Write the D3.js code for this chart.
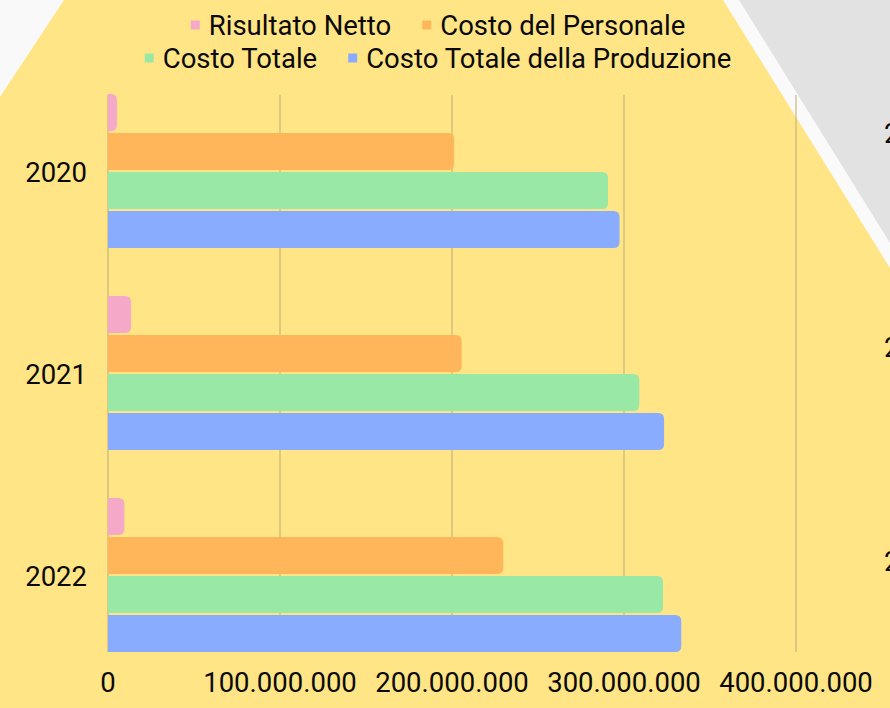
<!DOCTYPE html>
<html lang="it">
<head>
    <meta charset="UTF-8">
    <title>Costi e Risultato</title>
    <script src="https://d3js.org/d3.v7.min.js"></script>
    <style>
        html, body { margin: 0; padding: 0; background: #ffe585; }
        svg { display: block; font-family: Roboto, "Noto Sans", sans-serif; }
        .tick_text { font-size: 27.5px; fill: #0a0a0a; }
        .legend_text { font-size: 27.5px; fill: #0a0a0a; }
    </style>
</head>
<body>
<svg width="890" height="708"></svg>

<script>
    // data
    const years = ["2020", "2021", "2022"];
    const seriesNames = ["Risultato Netto", "Costo del Personale", "Costo Totale", "Costo Totale della Produzione"];
    const risultatoNetto = [5200000, 13400000, 9500000];
    const costoPersonale = [201200000, 205600000, 229800000];
    const costoTotale = [290700000, 308900000, 322700000];
    const costoProduzione = [297400000, 323300000, 333300000];
    const xTicks = [0, 100000000, 200000000, 300000000, 400000000];
    const seriesColors = ["#f6a8c8", "#ffb55a", "#9ae8a5", "#8aacff"];

    const seriesValues = [risultatoNetto, costoPersonale, costoTotale, costoProduzione];

    let svg = d3.select("svg");
    const W = 890, H = 708;

    // background shapes
    svg.append("rect").attr("width", W).attr("height", H).attr("fill", "#ffe585");
    svg.append("path").attr("d", "M0,0 L64,0 L0,97 Z").attr("fill", "#f9f9f9");
    svg.append("path").attr("d", "M723,0 L890,0 L890,268 Z").attr("fill", "#fafafa");
    svg.append("path").attr("d", "M739,0 L890,0 L890,243 Z").attr("fill", "#e1e2e1");
    // fragments of labels from a neighbouring chart, cut by the page edge as in the reference
    [143, 357, 571].forEach(function (y) {
        svg.append("text").attr("x", 884).attr("y", y)
            .attr("class", "tick_text").text("2");
    });

    const fmt = d3.formatLocale({decimal: ",", thousands: ".", grouping: [3], currency: ["", "€"]}).format(",d");

    const plotTop = 95, plotBottom = 652;
    let x = d3.scaleLinear().domain([0, 400000000]).range([108, 796]);
    let y0 = d3.scaleBand().domain(years).range([71, 677]);
    let y1 = d3.scaleBand().domain(seriesNames).range([0, 156]);
    const groupOffset = (y0.bandwidth() - 156) / 2;
    const barH = y1.bandwidth() - 2;

    // grid
    svg.append("g").selectAll("line")
        .data(xTicks)
        .enter()
        .append("line")
        .attr("x1", d => x(d)).attr("x2", d => x(d))
        .attr("y1", plotTop).attr("y2", plotBottom)
        .attr("stroke", "#c6b77e")
        .attr("stroke-width", 1.2);

    // x tick labels
    svg.append("g").selectAll("text")
        .data(xTicks)
        .enter()
        .append("text")
        .attr("class", "tick_text")
        .attr("x", d => x(d))
        .attr("y", 692)
        .attr("text-anchor", "middle")
        .text(d => fmt(d));

    // y labels
    svg.append("g").selectAll("text")
        .data(years)
        .enter()
        .append("text")
        .attr("class", "tick_text")
        .attr("x", 87)
        .attr("y", d => y0(d) + y0.bandwidth() / 2)
        .attr("dy", "0.35em")
        .attr("text-anchor", "end")
        .text(d => d);

    // bars, rounded on the right end only
    function barPath(x0, x1, yTop, h, r) {
        r = Math.min(r, (x1 - x0), h / 2);
        return "M" + x0 + "," + yTop +
            " H" + (x1 - r) +
            " Q" + x1 + "," + yTop + " " + x1 + "," + (yTop + r) +
            " V" + (yTop + h - r) +
            " Q" + x1 + "," + (yTop + h) + " " + (x1 - r) + "," + (yTop + h) +
            " H" + x0 + " Z";
    }

    let bars = [];
    years.forEach(function (yr, i) {
        seriesNames.forEach(function (s, j) {
            bars.push({year: yr, series: s, value: seriesValues[j][i], color: seriesColors[j]});
        });
    });

    svg.append("g").attr("class", "bars")
        .selectAll("path")
        .data(bars)
        .enter()
        .append("path")
        .attr("d", d => barPath(x(0), x(d.value), y0(d.year) + groupOffset + y1(d.series), barH, 6))
        .attr("fill", d => d.color);

    // legend, two centred rows
    const legendRows = [[0, 1], [2, 3]];
    const legendY = [25, 58];
    const legendCx = 438;
    const sq = 9, sqGap = 9, itemGap = 31;

    legendRows.forEach(function (row, r) {
        let g = svg.append("g");
        let cursor = 0;
        row.forEach(function (j) {
            g.append("rect")
                .attr("x", cursor).attr("y", legendY[r] - sq / 2)
                .attr("width", sq).attr("height", sq)
                .attr("fill", seriesColors[j]);
            let t = g.append("text")
                .attr("class", "legend_text")
                .attr("x", cursor + sq + sqGap)
                .attr("y", legendY[r])
                .attr("dy", "0.35em")
                .text(seriesNames[j]);
            cursor += sq + sqGap + t.node().getComputedTextLength() + itemGap;
        });
        const total = cursor - itemGap;
        g.attr("transform", "translate(" + (legendCx - total / 2) + ",0)");
    });
</script>
</body>
</html>
